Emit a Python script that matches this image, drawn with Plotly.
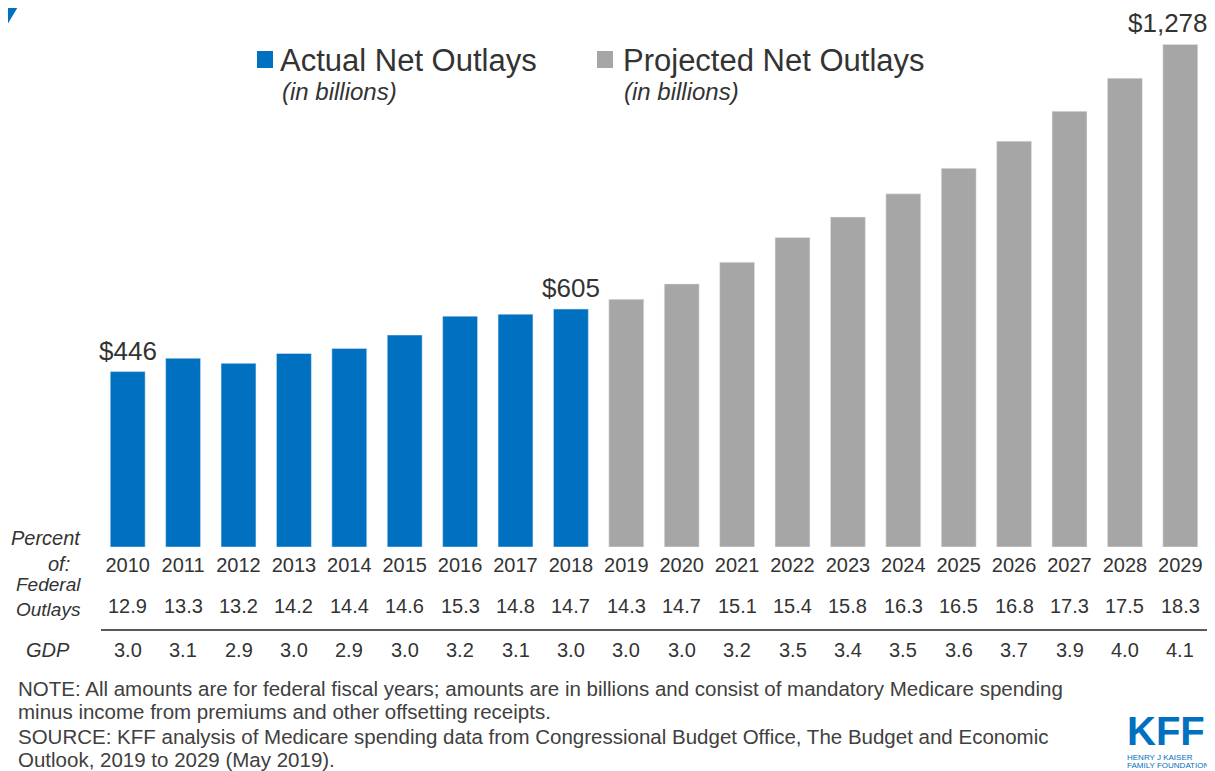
import plotly.graph_objects as go

years = [str(y) for y in range(2010, 2030)]
actual_years = years[:9]
projected_years = years[9:]
actual_values = [446, 480, 467, 492, 505, 539, 587, 592, 605]
projected_values = [630, 669, 724, 787, 839, 898, 963, 1032, 1108, 1192, 1278]
pct_federal = ["12.9", "13.3", "13.2", "14.2", "14.4", "14.6", "15.3", "14.8", "14.7",
               "14.3", "14.7", "15.1", "15.4", "15.8", "16.3", "16.5", "16.8", "17.3", "17.5", "18.3"]
pct_gdp = ["3.0", "3.1", "2.9", "3.0", "2.9", "3.0", "3.2", "3.1", "3.0",
           "3.0", "3.0", "3.2", "3.5", "3.4", "3.5", "3.6", "3.7", "3.9", "4.0", "4.1"]
# value labels shown above selected bars: (year, label)
value_labels = [("2010", "$446"), ("2018", "$605"), ("2029", "$1,278")]

BLUE = "#0070C0"
GRAY = "#A6A6A6"
TXT = "#333333"
FONT = "Liberation Sans"

# page has an 8px body margin; figure is sized/offset to compensate
OFF = 8
W, H = 1215 - OFF, 771 - OFF
L, R = 100, 1208          # plot area in reference (page) pixels
T, B = 20, 547


def px(x):
    return (x - L) / (R - L)


def py(y):
    return (B - y) / (B - T)


fig = go.Figure()
fig.add_trace(go.Bar(x=actual_years, y=actual_values, marker_color=BLUE, showlegend=False,
                     name="Actual Net Outlays"))
fig.add_trace(go.Bar(x=projected_years, y=projected_values, marker_color=GRAY, showlegend=False,
                     name="Projected Net Outlays"))

all_values = dict(zip(years, actual_values + projected_values))

annotations = []
for yr, lab in value_labels:
    idx = years.index(yr)
    annotations.append(dict(x=idx, y=all_values[yr], xref="x", yref="y", text=lab,
                            xanchor="center", yanchor="middle", yshift=21,
                            xshift=-12 if idx == len(years) - 1 else 0,
                            showarrow=False, font=dict(size=26, color=TXT, family=FONT)))

for i, yr in enumerate(years):
    annotations.append(dict(x=i, y=py(606), xref="x", yref="paper", text=pct_federal[i],
                            xanchor="center", yanchor="middle",
                            showarrow=False, font=dict(size=20, color=TXT, family=FONT)))
    annotations.append(dict(x=i, y=py(650), xref="x", yref="paper", text=pct_gdp[i],
                            xanchor="center", yanchor="middle",
                            showarrow=False, font=dict(size=20, color=TXT, family=FONT)))

# left row labels
for text, x, y in [("Percent", 83, 538), ("of:", 72, 564)]:
    annotations.append(dict(x=px(x), y=py(y), xref="paper", yref="paper", text=f"<i>{text}</i>",
                            xanchor="right", yanchor="middle", showarrow=False,
                            font=dict(size=20, color=TXT, family=FONT)))
annotations.append(dict(x=px(83), y=py(596.5), xref="paper", yref="paper",
                        text="<i>Federal</i><br><i>Outlays</i>", align="right",
                        xanchor="right", yanchor="middle", showarrow=False,
                        font=dict(size=19, color=TXT, family=FONT)))
annotations.append(dict(x=px(48), y=py(650), xref="paper", yref="paper", text="<i>GDP</i>",
                        xanchor="center", yanchor="middle", showarrow=False,
                        font=dict(size=20, color=TXT, family=FONT)))

# legend texts
annotations += [
    dict(x=px(278), y=py(60), xref="paper", yref="paper", text="Actual Net Outlays",
         xanchor="left", yanchor="middle", showarrow=False,
         font=dict(size=31, color=TXT, family=FONT)),
    dict(x=px(280), y=py(92), xref="paper", yref="paper", text="<i>(in billions)</i>",
         xanchor="left", yanchor="middle", showarrow=False,
         font=dict(size=24, color=TXT, family=FONT)),
    dict(x=px(621), y=py(60), xref="paper", yref="paper", text="Projected Net Outlays",
         xanchor="left", yanchor="middle", showarrow=False,
         font=dict(size=31, color=TXT, family=FONT)),
    dict(x=px(622), y=py(92), xref="paper", yref="paper", text="<i>(in billions)</i>",
         xanchor="left", yanchor="middle", showarrow=False,
         font=dict(size=24, color=TXT, family=FONT)),
]

# notes
notes = [
    (688, "NOTE: All amounts are for federal fiscal years; amounts are in billions and consist of mandatory Medicare spending"),
    (711, "minus income from premiums and other offsetting receipts."),
    (736, "SOURCE: KFF analysis of Medicare spending data from Congressional Budget Office, The Budget and Economic"),
    (759, "Outlook, 2019 to 2029 (May 2019)."),
]
for y, t in notes:
    annotations.append(dict(x=px(16), y=py(y), xref="paper", yref="paper", text=t,
                            xanchor="left", yanchor="middle", showarrow=False,
                            font=dict(size=20.5, color="#404040", family=FONT)))

# KFF logo
annotations += [
    dict(x=px(1166), y=py(731), xref="paper", yref="paper", text="<b>KFF</b>",
         xanchor="center", yanchor="middle", showarrow=False,
         font=dict(size=40, color=BLUE, family=FONT)),
    dict(x=px(1125), y=py(757), xref="paper", yref="paper", text="HENRY J KAISER",
         xanchor="left", yanchor="middle", showarrow=False,
         font=dict(size=8, color=BLUE, family=FONT)),
    dict(x=px(1125), y=py(765), xref="paper", yref="paper", text="FAMILY FOUNDATION",
         xanchor="left", yanchor="middle", showarrow=False,
         font=dict(size=8, color=BLUE, family=FONT)),
]

shapes = [
    # legend squares
    dict(type="rect", xref="paper", yref="paper", x0=px(257), x1=px(273), y0=py(51), y1=py(68),
         fillcolor=BLUE, line_width=0),
    dict(type="rect", xref="paper", yref="paper", x0=px(597), x1=px(613), y0=py(51), y1=py(68),
         fillcolor=GRAY, line_width=0),
    # separator line
    dict(type="line", xref="paper", yref="paper", x0=px(101), x1=px(1208), y0=py(630), y1=py(630),
         line=dict(color="#222222", width=1.5)),
    # corner triangle
    dict(type="path", xref="paper", yref="paper",
         path=f"M {px(0)},{py(0)} L {px(22)},{py(0)} L {px(0)},{py(37)} Z",
         fillcolor=BLUE, line_width=0),
]

fig.update_layout(
    width=W, height=H,
    margin=dict(l=L - OFF, r=W - (R - OFF), t=T - OFF, b=H - (B - OFF), pad=0),
    paper_bgcolor="white", plot_bgcolor="white",
    bargap=0.37,
    barmode="overlay",
    xaxis=dict(type="category", categoryorder="array", categoryarray=years,
               range=[-0.5, len(years) - 0.5], autorange=False,
               showgrid=False, showline=False, zeroline=False, ticks="",
               tickfont=dict(size=20, color=TXT, family=FONT), ticklabelstandoff=4),
    yaxis=dict(range=[0, 1340], autorange=False, visible=False, showgrid=False, zeroline=False),
    annotations=annotations,
    shapes=shapes,
    font=dict(family=FONT, color=TXT),
)

fig.write_html("out.html")
